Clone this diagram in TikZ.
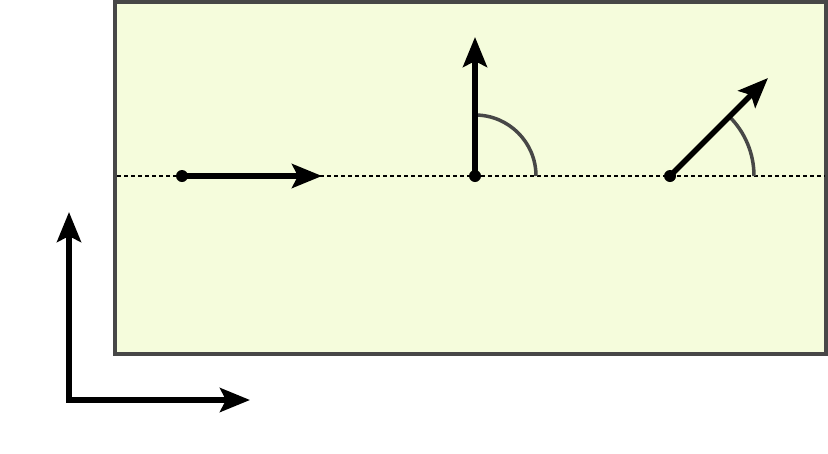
\documentclass[tikz,border=0pt]{standalone}
\usetikzlibrary{arrows.meta}
\begin{document}
\begin{tikzpicture}[x=1pt,y=-1pt,
  tip/.tip={Stealth[length=30pt,width=24pt,inset=6pt]},
  vec/.style={line width=5.5pt,-tip},
  dotst/.style={circle,fill=black,inner sep=0pt,minimum size=12pt},
  ang/.style={line width=3.5pt,draw=black!72}]
\useasboundingbox (0,0) rectangle (828,453);
\draw[line width=3.5pt,draw=black!72,fill={rgb,255:red,245;green,252;blue,220}] (115,2) rectangle (826,354);
\draw[line width=1.5pt,dash pattern=on 4pt off 3pt] (117,176) -- (825,176);
\node[dotst] (a1) at (182,176) {};
\coordinate (a1e) at (322,176);
\draw[vec] (a1.center) -- (a1e);
\node[dotst] (a2) at (475,176) {};
\coordinate (a2e) at (475,37);
\draw[ang] (475,115) arc[start angle=-90,end angle=0,radius=61];
\draw[vec] (a2.center) -- (a2e);
\node[dotst] (a3) at (670,176) {};
\coordinate (a3e) at (768,78);
\draw[ang] (729.4,116.6) arc[start angle=-45,end angle=0,radius=84];
\draw[vec] (a3.center) -- (a3e);
\coordinate (o) at (69,400);
\coordinate (oy) at (69,212);
\coordinate (ox) at (250,400);
\draw[vec,tip-tip] (oy) -- (o) -- (ox);
\end{tikzpicture}
\end{document}
